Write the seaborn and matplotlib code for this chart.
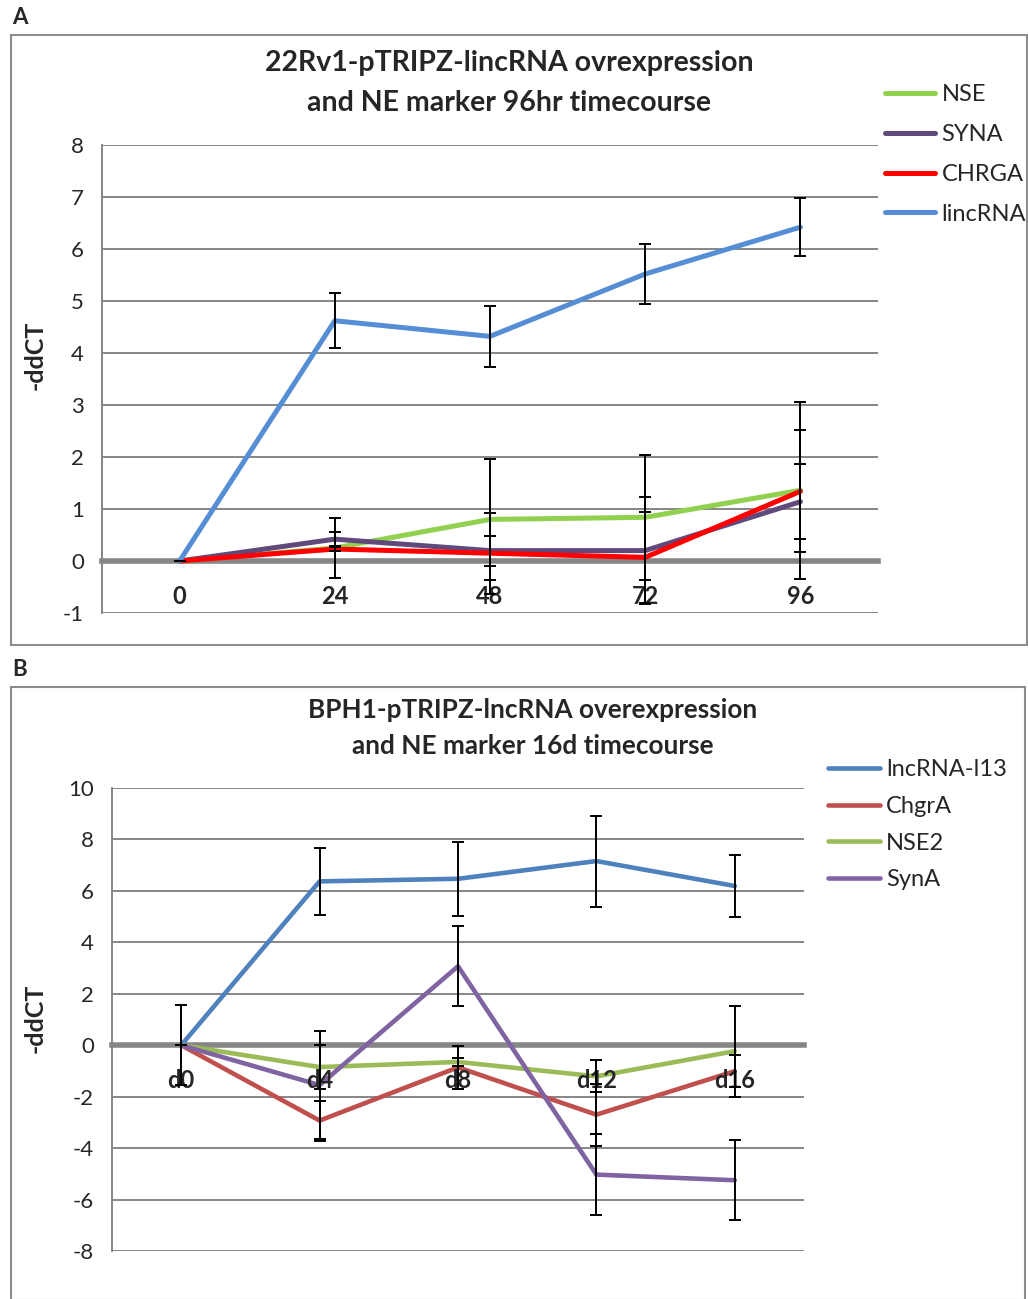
import seaborn as sns
import matplotlib.pyplot as plt
from matplotlib.patches import Rectangle
import numpy as np, pandas as pd

# ---- panel A data (-ddCT, 22Rv1 96hr) ----
a_times = ['0', '24', '48', '72', '96']
a_series = ['NSE', 'SYNA', 'CHRGA', 'lincRNA']
a_nse = [0, 0.25, 0.80, 0.84, 1.36]
a_syna = [0, 0.42, 0.20, 0.20, 1.14]
a_chrga = [0, 0.23, 0.15, 0.07, 1.34]
a_linc = [0, 4.62, 4.32, 5.52, 6.42]
a_nse_err = [0, 0.58, 1.17, 1.20, 1.70]
a_syna_err = [0, 0.13, 0.29, 1.03, 0.72]
a_chrga_err = [0, 0.04, 0.78, 0.88, 1.17]
a_linc_err = [0, 0.53, 0.58, 0.57, 0.56]
a_colors = ['#92D050', '#604A7B', '#FF0000', '#558ED5']

# ---- panel B data (-ddCT, BPH1 16d) ----
b_days = ['d0', 'd4', 'd8', 'd12', 'd16']
b_series = ['lncRNA-l13', 'ChgrA', 'NSE2', 'SynA']
b_lnc = [0, 6.37, 6.47, 7.16, 6.19]
b_chgra = [0, -2.93, -0.86, -2.70, -1.01]
b_nse2 = [0, -0.85, -0.65, -1.21, -0.23]
b_syna = [0, -1.55, 3.07, -5.03, -5.25]
b_lnc_err = [0, 1.31, 1.45, 1.77, 1.19]
b_chgra_err = [0, 0.78, 0.84, 1.20, 0.62]
b_nse2_err = [0, 0.85, 0.15, 0.62, 1.77]
b_syna_err = [1.56, 2.10, 1.56, 1.58, 1.56]
b_colors = ['#4F81BD', '#C0504D', '#9BBB59', '#8064A2']

W, H = 1028, 1299
GRAY = '#868686'


def long_frame(labels, names, values, errs):
    rows = []
    for name, vals, err in zip(names, values, errs):
        for i, (v, e) in enumerate(zip(vals, err)):
            rows.append({'series': name, 'pos': i, 'label': labels[i], 'val': v, 'err': e})
    return pd.DataFrame(rows)


dfa = long_frame(a_times, a_series, [a_nse, a_syna, a_chrga, a_linc],
                 [a_nse_err, a_syna_err, a_chrga_err, a_linc_err])
dfb = long_frame(b_days, b_series, [b_lnc, b_chgra, b_nse2, b_syna],
                 [b_lnc_err, b_chgra_err, b_nse2_err, b_syna_err])

sns.set_theme(style='white')
plt.rcParams['font.family'] = ['Lato', 'DejaVu Sans']
plt.rcParams['axes.unicode_minus'] = False

fig = plt.figure(figsize=(W / 100, H / 100), dpi=100)


def px_axes(left, top, right, bottom):
    return fig.add_axes([left / W, 1 - bottom / H, (right - left) / W, (bottom - top) / H])


def style_panel(ax, df, names, colors, labels, ylim, ystep, lw, tfs):
    sns.lineplot(data=df, x='pos', y='val', hue='series', hue_order=names,
                 palette=colors, linewidth=lw, ax=ax, zorder=2)
    for name in names:
        sub = df[df.series == name]
        ax.errorbar(sub.pos, sub.val, yerr=sub.err, fmt='none', ecolor='black',
                    elinewidth=1.4, capsize=4.5, capthick=1.4, zorder=3)
    # spine position first: moving it resets the tick labels
    for s in ['top', 'right']:
        ax.spines[s].set_visible(False)
    ax.spines['left'].set_color(GRAY)
    ax.spines['left'].set_linewidth(1.4)
    ax.spines['bottom'].set_position(('data', 0))
    ax.spines['bottom'].set_color(GRAY)
    ax.spines['bottom'].set_linewidth(4)
    ax.spines['bottom'].set_zorder(1)

    ax.set_xlim(-0.5, len(labels) - 0.5)
    ax.set_ylim(*ylim)
    ax.set_yticks(np.arange(ylim[0], ylim[1] + 0.1, ystep))
    ax.set_xticks(range(len(labels)))
    ax.set_xticklabels(labels)
    ax.tick_params(axis='y', labelsize=tfs, length=5, color=GRAY, width=1.3, pad=8)
    ax.tick_params(axis='x', length=0, pad=17, labelsize=tfs + 1)
    for t in ax.get_xticklabels():
        t.set_fontweight('bold')
    ax.grid(axis='y', color=GRAY, linewidth=1.4)
    ax.grid(axis='x', visible=False)
    ax.set_axisbelow(True)
    ax.xaxis.set_zorder(2.6)
    ax.set_xlabel('')
    ax.set_ylabel('')


# panel A
axa = px_axes(102, 145, 878, 613)
style_panel(axa, dfa, a_series, a_colors, a_times, (-1, 8), 1, 3.6, 16)
sns.move_legend(axa, 'upper left', bbox_to_anchor=(885 / W, 1 - 84 / H),
                bbox_transform=fig.transFigure, frameon=False, title=None,
                fontsize=17, handlelength=2.1, handletextpad=0.3,
                labelspacing=0.80, borderpad=0, borderaxespad=0)

# panel B
axb = px_axes(112, 788, 804, 1251)
style_panel(axb, dfb, b_series, b_colors, b_days, (-8, 10), 2, 3.3, 16)
sns.move_legend(axb, 'upper left', bbox_to_anchor=(828 / W, 1 - 759 / H),
                bbox_transform=fig.transFigure, frameon=False, title=None,
                fontsize=17, handlelength=2.2, handletextpad=0.25,
                labelspacing=0.67, borderpad=0, borderaxespad=0)

# frames, panel letters, titles, y labels
for (x0, y0, x1, y1) in [(11, 35, 1027, 645), (11, 687, 1025, 1300)]:
    fig.patches.append(Rectangle((x0 / W, 1 - y1 / H), (x1 - x0) / W, (y1 - y0) / H,
                                 transform=fig.transFigure, fill=False,
                                 edgecolor='#8C8C8C', linewidth=1.5))
fig.text(20 / W, 1 - 18 / H, 'A', fontsize=16, fontweight='bold', ha='center', va='center')
fig.text(20 / W, 1 - 670 / H, 'B', fontsize=16, fontweight='bold', ha='center', va='center')

fig.text(509 / W, 1 - 83 / H, '22Rv1-pTRIPZ-lincRNA ovrexpression\nand NE marker 96hr timecourse',
         fontsize=20.5, fontweight='bold', ha='center', va='center', linespacing=1.62)
fig.text(533 / W, 1 - 728 / H, 'BPH1-pTRIPZ-lncRNA overexpression\nand NE marker 16d timecourse',
         fontsize=18.8, fontweight='bold', ha='center', va='center', linespacing=1.55)

fig.text(35 / W, 1 - 355 / H, '-ddCT', rotation=90, fontsize=18, fontweight='bold',
         ha='center', va='center')
fig.text(35 / W, 1 - 1018 / H, '-ddCT', rotation=90, fontsize=18, fontweight='bold',
         ha='center', va='center')

fig.savefig('out.png', dpi=100, facecolor='white')
plt.close(fig)
